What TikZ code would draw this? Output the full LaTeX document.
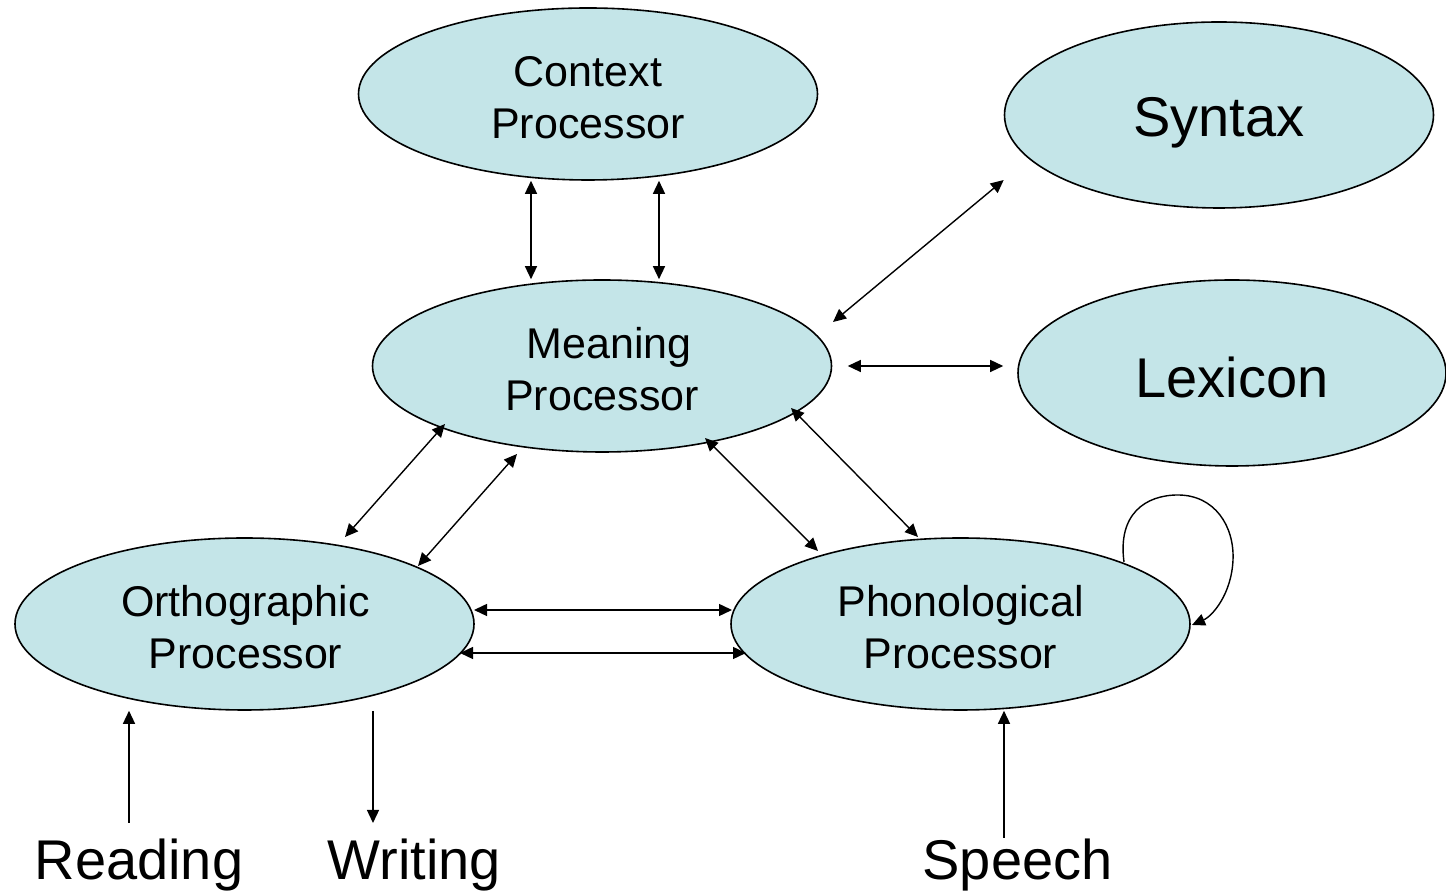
\documentclass[tikz,border=0pt]{standalone}
\usepackage{fontspec}
\setmainfont{Liberation Sans}
\usetikzlibrary{arrows.meta,calc,shapes.geometric}

\definecolor{procfill}{HTML}{C4E5E8}

\tikzset{
  proc/.style={ellipse, draw=black, line width=1.6pt, fill=procfill,
    inner sep=0pt},
  midproc/.style={proc, minimum width=459pt, minimum height=172pt},
  bigproc/.style={proc, minimum width=429pt, minimum height=186pt},
  midtext/.style={font=\fontsize{43}{52}\selectfont, align=center, inner sep=0pt},
  bigtext/.style={font=\fontsize{56}{62}\selectfont, inner sep=0pt, text depth=0pt},
  link/.style={line width=1.4pt, {Triangle[length=13pt,width=12pt]}-{Triangle[length=13pt,width=12pt]}},
  oneway/.style={line width=1.4pt, -{Triangle[length=13pt,width=12pt]}},
  channel/.style={font=\fontsize{56}{62}\selectfont, anchor=base, inner sep=0pt},
}

\begin{document}
\begin{tikzpicture}[x=1pt,y=1pt]
  \useasboundingbox (0,0) rectangle (1446,893);

  % processors
  \node[midproc] (ctx)  at (588,799)   {};
  \node[bigproc] (syn)  at (1219,778)  {};
  \node[midproc] (mean) at (602,527)   {};
  \node[bigproc, minimum width=428pt] (lex) at (1232,520) {};
  \node[midproc] (orth) at (244.5,269) {};
  \node[midproc] (phon) at (960.5,269) {};

  % processor names
  \node[midtext] (ctxname)  at ([yshift=-4pt]ctx.center) {Context\\Processor};
  \node[bigtext] (synname)  at ([yshift=-2pt]syn.center) {Syntax};
  \node[midtext] (meanname) at ([yshift=-3pt]mean.center) {\hspace*{14pt}Meaning\\Processor};
  \node[bigtext] (lexname)  at ([yshift=-4pt]lex.center) {Lexicon};
  \node[midtext] (orthname) at ([shift={(1,-3)}]orth.center) {Orthographic\\Processor};
  \node[midtext] (phonname) at ([yshift=-3pt]phon.center) {Phonological\\Processor};

  % input / output channels
  \node[channel] (read)  at (139,13)    {Reading};
  \node[channel] (write) at (414.5,13)  {Writing};
  \node[channel] (speech) at (1017.5,13) {Speech};
  \coordinate (readin)   at (129,70);
  \coordinate (writeout) at (373,70);
  \coordinate (speechin) at (1004,55);

  % context <-> meaning
  \draw[link] ([xshift=-57pt]ctx.south) -- ([xshift=-71pt]mean.north);
  \draw[link] ([xshift=71pt]ctx.south)  -- ([xshift=57pt]mean.north);

  % meaning <-> syntax, lexicon
  \draw[link] ([shift={(231,44)}]mean.center) -- ([yshift=-65pt]syn.west);
  \draw[link] ([xshift=15.5pt]mean.east) -- ([shift={(-14,7)}]lex.west);

  % meaning <-> orthographic
  \draw[link] ([shift={(-157,-58)}]mean.center) -- ([shift={(100.5,87)}]orth.center);
  \draw[link] ([shift={(-85,-88)}]mean.center)  -- ([shift={(173.5,58)}]orth.center);

  % meaning <-> phonological
  \draw[link] ([shift={(103,-72)}]mean.center) -- ([shift={(-142.5,73)}]phon.center);
  \draw[link] ([shift={(189,-42)}]mean.center) -- ([shift={(-42.5,87)}]phon.center);

  % orthographic <-> phonological
  \draw[link] ([shift={(229.5,14)}]orth.center)  -- ([shift={(-228.5,14)}]phon.center);
  \draw[link] ([shift={(215.5,-29)}]orth.center) -- ([shift={(-214.5,-29)}]phon.center);

  % phonological self-loop
  \draw[oneway] ([shift={(163.5,62)}]phon.center)
      .. controls ([shift={(157,110)}]phon.center) and ([shift={(185,129)}]phon.center)
      .. ([shift={(217.5,129)}]phon.center)
      .. controls ([shift={(254,129)}]phon.center) and ([shift={(274,98)}]phon.center)
      .. ([shift={(272.5,64)}]phon.center)
      .. controls ([shift={(271,30)}]phon.center) and ([shift={(252,8)}]phon.center)
      .. ([shift={(231.5,-1)}]phon.center);

  % channels
  \draw[oneway] (readin) -- ([xshift=-115.5pt]orth.south);
  \draw[oneway] ([xshift=128.5pt]orth.south) -- (writeout);
  \draw[oneway] (speechin) -- ([xshift=43.5pt]phon.south);
\end{tikzpicture}
\end{document}
